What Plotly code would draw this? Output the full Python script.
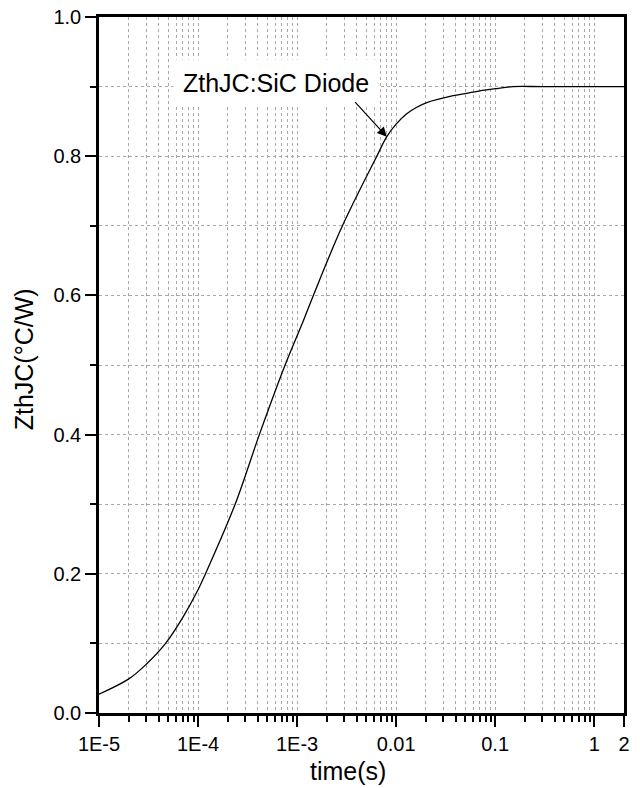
import math
import plotly.graph_objects as go

# Data (time in s, ZthJC in °C/W)
time_s = [1e-5, 2e-5, 3e-5, 4.7e-5, 7e-5, 1e-4, 1.18e-4, 2.37e-4, 4.16e-4,
          7.57e-4, 1.16e-3, 1.46e-3, 2.87e-3, 6.38e-3, 8.05e-3, 1e-2, 1.28e-2,
          1.6e-2, 2.04e-2, 3.77e-2, 5e-2, 7e-2, 0.1, 0.15, 0.3, 1.0, 2.0]
zth = [0.027, 0.049, 0.070, 0.100, 0.137, 0.177, 0.199, 0.300, 0.400,
       0.500, 0.564, 0.600, 0.700, 0.800, 0.828, 0.846, 0.861,
       0.870, 0.877, 0.887, 0.890, 0.894, 0.897, 0.900, 0.900, 0.900, 0.900]

x_tickvals = [1e-5, 1e-4, 1e-3, 1e-2, 1e-1, 1, 2]
x_ticktext = ["1E-5", "1E-4", "1E-3", "0.01", "0.1", "1", "2"]
x_minor = [m * 10.0 ** e for e in range(-5, 0) for m in range(2, 10)]
y_tickvals = [0.0, 0.2, 0.4, 0.6, 0.8, 1.0]
y_minor = [0.1, 0.3, 0.5, 0.7, 0.9]

series_name = "ZthJC:SiC Diode"
x_title = "time(s)"
y_title = "ZthJC(°C/W)"
arrow_point = (8.05e-3, 0.828)

FONT = "Liberation Sans, Arial, sans-serif"
GRID = "#a8a8a8"

L, T, R, B = 99, 17, 16, 75
PW, PH = 525, 696

fig = go.Figure()
fig.add_trace(go.Scatter(
    x=time_s, y=zth, mode="lines",
    line=dict(color="black", width=1.3, shape="spline", smoothing=1.0),
    showlegend=False, name=series_name,
))

fig.update_layout(
    width=L + PW + R, height=T + PH + B,
    margin=dict(l=L, r=R, t=T, b=B, pad=0, autoexpand=False),
    paper_bgcolor="white", plot_bgcolor="white",
    font=dict(family=FONT, color="black", size=20),
    xaxis=dict(
        type="log", range=[-5, 0.30103], automargin=False,
        tickmode="array", tickvals=x_tickvals, ticktext=x_ticktext,
        ticks="outside", ticklen=11, tickwidth=2, tickcolor="black",
        showline=True, linecolor="black", linewidth=2.5, mirror=True,
        showgrid=True, gridcolor=GRID, griddash="dot", gridwidth=1,
        zeroline=False, ticklabeloverflow="allow",
        tickfont=dict(size=20, family=FONT),
        minor=dict(tickmode="array", tickvals=x_minor, ticks="outside",
                   ticklen=6, tickwidth=1.5, tickcolor="black",
                   showgrid=True, gridcolor=GRID, griddash="dot", gridwidth=1),
    ),
    yaxis=dict(
        range=[0, 1], automargin=False,
        tickmode="array", tickvals=y_tickvals, tickformat=".1f",
        ticks="outside", ticklen=11, tickwidth=2, tickcolor="black",
        showline=True, linecolor="black", linewidth=2.5, mirror=True,
        showgrid=True, gridcolor=GRID, griddash="dot", gridwidth=1,
        zeroline=False, ticklabeloverflow="allow",
        tickfont=dict(size=20, family=FONT),
        minor=dict(tickmode="array", tickvals=y_minor, ticks="outside",
                   ticklen=6, tickwidth=1.5, tickcolor="black",
                   showgrid=True, gridcolor=GRID, griddash="dot", gridwidth=1),
    ),
)

# Series label with white box
fig.add_annotation(
    xref="paper", yref="paper", x=(276 - 99) / PW, y=(712.7 - 83) / PH,
    text=series_name, showarrow=False,
    font=dict(size=25, family=FONT, color="black"),
    bgcolor="white", borderpad=9, xanchor="center", yanchor="middle",
)
# Arrow pointing at the curve
fig.add_annotation(
    xref="x", yref="y", x=math.log10(arrow_point[0]), y=arrow_point[1],
    text="", showarrow=True, ax=-33, ay=-36,
    arrowhead=2, arrowsize=1.6, arrowwidth=1.2, arrowcolor="black",
)
# Axis titles
fig.add_annotation(
    xref="paper", yref="paper", x=(348 - 99) / PW, y=-(771 - 712.7) / PH,
    text=x_title, showarrow=False, font=dict(size=25, family=FONT),
    xanchor="center", yanchor="middle",
)
fig.add_annotation(
    xref="paper", yref="paper", x=-(99 - 24) / PW, y=(712.7 - 359) / PH,
    text=y_title, showarrow=False, font=dict(size=25, family=FONT),
    textangle=-90, xanchor="center", yanchor="middle",
)

fig.write_html(
    "out.html",
    config={"displayModeBar": False},
    post_script="document.body.style.margin='0';document.body.style.overflow='hidden';",
)
